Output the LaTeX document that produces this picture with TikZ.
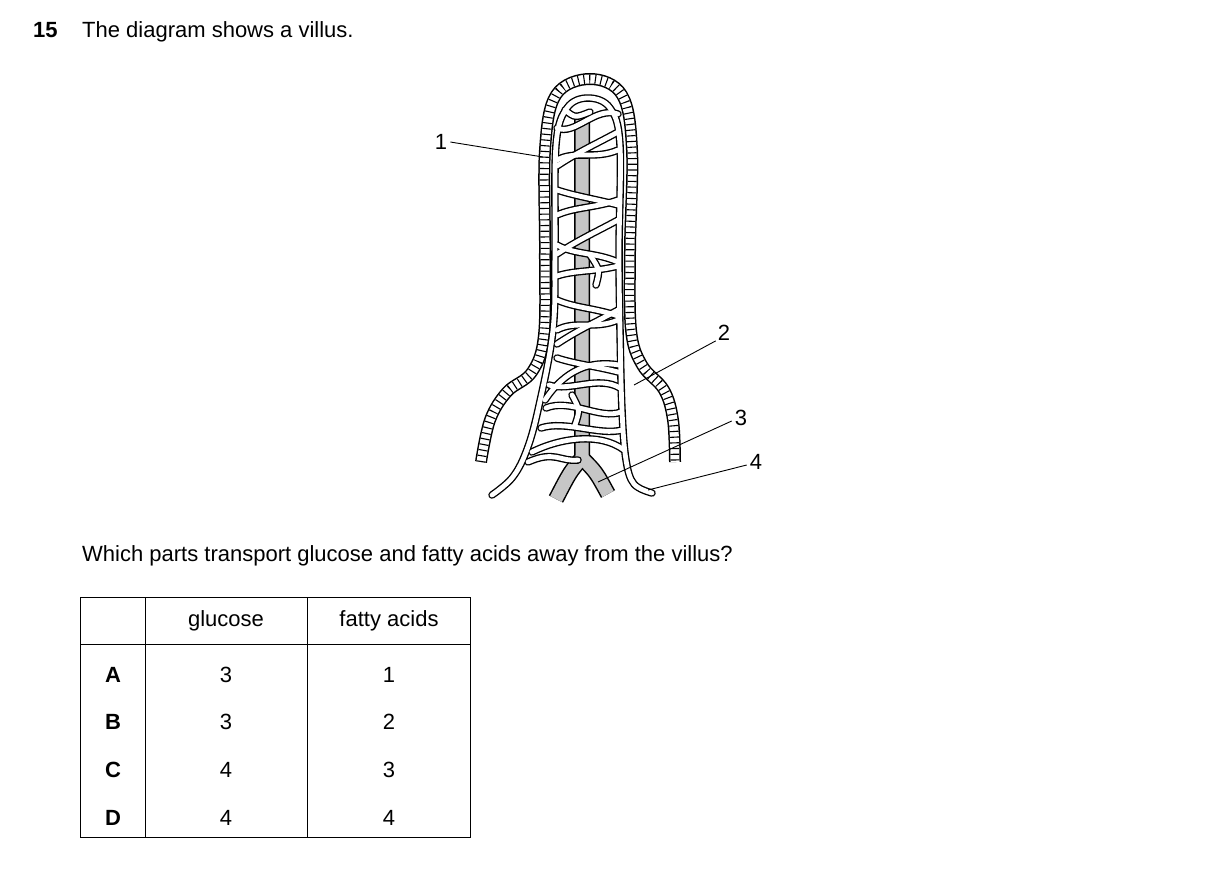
\documentclass[tikz,border=0pt]{standalone}
\usepackage{fontspec}
\setmainfont{Liberation Sans}
\begin{document}
\begin{tikzpicture}[x=1pt,y=-1pt,
    txt/.style={font=\fontsize{22}{26}\selectfont, inner sep=0pt},
    lbl/.style={txt, anchor=center},
    pointer/.style={line width=0.9pt}]

    \useasboundingbox (0,0) rectangle (1209,887);

    % question text
    \node[txt, anchor=base west, font=\fontsize{22}{26}\selectfont\bfseries] (qnum) at (33,37) {15};
    \node[txt, anchor=base west] (qtext) at (82,37) {The diagram shows a villus.};
    \node[txt, anchor=base west] (ask) at (82,561) {Which parts transport glucose and fatty acids away from the villus?};

    % epithelium
    \def\epith{plot[smooth, tension=0.6] coordinates {(481,462) (490,420) (507,392) (532,372) (544,335) (545,250) (545,150) (556,95) (590,79) (622,95) (632,150) (630,250) (631,330) (642,365) (664,390) (673,420) (675,462)}}
    \draw[line width=12pt, line cap=butt] \epith;
    \draw[line width=9pt, white, line cap=butt] \epith;
    \draw[line width=9pt, line cap=butt, dash pattern=on 1.1pt off 4.6pt] \epith;

    % lacteal
    \foreach \w/\c in {16/black, 13/gray!45} {
        \draw[line width=\w pt, \c, line cap=butt] (582,116) -- (582,458) .. controls (570,472) .. (556,499);
        \draw[line width=\w pt, \c, line cap=butt] (582,458) .. controls (596,472) .. (608,494);
    }

    % blood vessel loop and capillary network
    \foreach \w/\c in {7.5/black, 4.8/white} {
        \begin{scope}[line width=\w pt, \c, line cap=round, line join=round]
            \draw plot[smooth, tension=0.6] coordinates {(492,495) (512,478) (526,452) (538,410) (553,330) (555,250) (556,145) (567,108) (588,98) (610,108) (620,145) (619,250) (620,330) (622,410) (626,460) (634,484) (652,493)};
            \foreach \ya/\yb/\d in {128/114/8, 160/150/-10, 190/205/6, 215/200/-8, 245/262/10, 276/266/-6, 300/316/8, 330/320/-10, 358/372/6} {
                \draw (557,\ya) .. controls (575,\ya+\d) and (595,\yb-\d) .. (618,\yb);
            }
            \foreach \ya in {140,228,318} {
                \draw (557,\ya+26) .. controls (578,\ya+12) and (596,\ya+4) .. (618,\ya-8);
            }
            \draw (549,385) .. controls (570,392) and (598,375) .. (620,388);
            \draw (546,408) .. controls (570,398) and (600,420) .. (621,412);
            \draw (541,428) .. controls (565,420) and (600,436) .. (622,430);
            \draw (545,400) .. controls (565,370) and (590,360) .. (619,365);
            \draw (532,452) .. controls (560,438) and (600,432) .. (624,450);
            \draw (528,462) .. controls (555,450) and (560,462) .. (578,460);
            \draw (565,110) .. controls (575,118) .. (590,112);
            \draw (590,255) .. controls (600,270) .. (596,285);
            \draw (572,395) .. controls (580,410) .. (575,425);
        \end{scope}
    }

    % labels
    \node[lbl] (n1) at (441,142) {1};
    \node[lbl] (n2) at (724,333) {2};
    \node[lbl] (n3) at (741,418) {3};
    \node[lbl] (n4) at (756,462) {4};
    \coordinate (p1) at (543,157);
    \coordinate (p2) at (634,385);
    \coordinate (p3) at (598,482);
    \coordinate (p4) at (648,490);
    \draw[pointer] (n1.east) ++(3,0) -- (p1);
    \draw[pointer] (n2.south west) ++(-2,0) -- (p2);
    \draw[pointer] (n3.west) ++(-3,3) -- (p3);
    \draw[pointer] (n4.west) ++(-3,3) -- (p4);

    % table
    \draw[line width=0.9pt] (80,597) rectangle (470,837);
    \draw[line width=0.9pt] (80,644) -- (470,644);
    \draw[line width=0.9pt] (145,597) -- (145,837);
    \draw[line width=0.9pt] (307,597) -- (307,837);
    \node[lbl] (hg) at (226,621) {glucose};
    \node[lbl] (hf) at (389,621) {fatty acids};
    \foreach \r/\yy/\g/\f in {A/675/3/1, B/722/3/2, C/770/4/3, D/818/4/4} {
        \node[lbl, font=\fontsize{22}{26}\selectfont\bfseries] (row\r) at (113,\yy) {\r};
        \node[lbl] (g\r) at (226,\yy) {\g};
        \node[lbl] (f\r) at (389,\yy) {\f};
    }
\end{tikzpicture}
\end{document}
